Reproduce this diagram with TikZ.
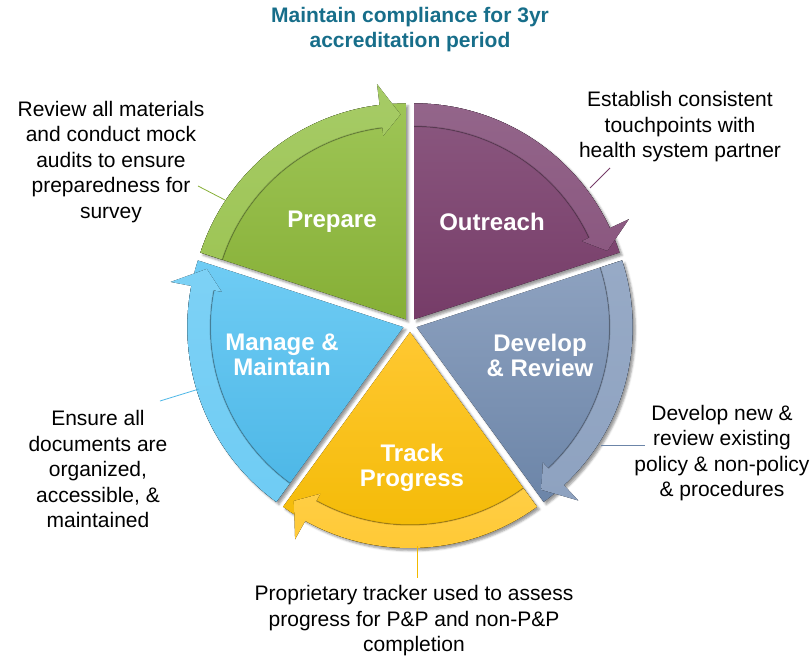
\documentclass[tikz,border=0pt]{standalone}
\usepackage{fontspec}
\setmainfont{Liberation Sans}
\usetikzlibrary{shadows.blur}

\definecolor{titleteal}{HTML}{176E8A}
\definecolor{prepTop}{HTML}{9EC556}
\definecolor{prepBot}{HTML}{86AF36}
\definecolor{prepBand}{HTML}{A6CB66}
\definecolor{outrTop}{HTML}{8B5880}
\definecolor{outrBot}{HTML}{763C68}
\definecolor{outrBand}{HTML}{93658A}
\definecolor{devrTop}{HTML}{8EA2C0}
\definecolor{devrBot}{HTML}{6C85A8}
\definecolor{devrBand}{HTML}{97AAC6}
\definecolor{trakTop}{HTML}{FFC832}
\definecolor{trakBot}{HTML}{F2B900}
\definecolor{trakBand}{HTML}{FFCE45}
\definecolor{manaTop}{HTML}{6FCCF4}
\definecolor{manaBot}{HTML}{4BB6E6}
\definecolor{manaBand}{HTML}{7DD1F5}

\tikzset{
  titletext/.style={align=center,text=titleteal,font=\bfseries\fontsize{21}{25}\selectfont},
  slicetext/.style={align=center,text=white,font=\bfseries\fontsize{24}{25}\selectfont},
  note/.style={align=center,font=\fontsize{21}{25.5}\selectfont},
  leader/.style={line width=0.8pt},
}

\begin{document}
\begin{tikzpicture}[x=1pt,y=1pt]
\useasboundingbox (-410,-333) rectangle (402,325);
% title
\node[titletext] (title) at (0,295) {Maintain compliance for 3yr\\accreditation period};
% wedges, each with its curved arrow
\foreach \lo/\hi/\col in {90/162/prep,18/90/outr,-54/18/devr,-126/-54/trak,162/234/mana}{
  \pgfmathsetmacro\md{(\lo+\hi)/2}
  \pgfmathsetmacro\hd{\lo+7}
  \pgfmathsetmacro\tp{\lo+1.5}
  \begin{scope}[shift={(\md:7)}]
    \fill[blur shadow,top color=\col Top,bottom color=\col Bot]
      (0,0) -- (\lo:216) arc[start angle=\lo,end angle=\hi,radius=216] -- cycle;
    \fill[top color=\col Band,bottom color=\col Top]
      (\hi:216) arc[start angle=\hi,end angle=\hd,radius=216]
      -- (\hd:237) -- (\tp:205) -- (\hd:185) -- (\hd:193)
      arc[start angle=\hd,end angle=\hi,radius=193] -- cycle;
    \draw[black,opacity=.18,line width=1.5]
      (\hi:193) arc[start angle=\hi,end angle=\hd,radius=193];
  \end{scope}
}
% wedge labels
\node[slicetext] (prepLbl) at (-78,103) {Prepare};
\node[slicetext] (outrLbl) at (82,103) {Outreach};
\node[slicetext] (devrLbl) at (130,-30) {Develop\\\& Review};
\node[slicetext] (trakLbl) at (2,-143) {Track\\Progress};
\node[slicetext] (manaLbl) at (-128,-30) {Manage \&\\Maintain};
% notes
\node[note] (prepNote) at (-299,163) {Review all materials\\and conduct mock\\audits to ensure\\preparedness for\\survey};
\node[note] (outrNote) at (270,198) {Establish consistent\\touchpoints with\\health system partner};
\node[note] (devrNote) at (312,-128) {Develop new \&\\review existing\\policy \& non-policy\\\& procedures};
\node[note] (trakNote) at (4,-296) {Proprietary tracker used to assess\\progress for P\&P and non-P\&P\\completion};
\node[note] (manaNote) at (-312,-144) {Ensure all\\documents are\\organized,\\accessible, \&\\maintained};
% leader lines
\coordinate (prepA) at (-212,139); \coordinate (prepB) at (-185,125);
\coordinate (outrA) at (200,157);  \coordinate (outrB) at (180,137);
\coordinate (devrA) at (235,-120); \coordinate (devrB) at (191,-120);
\coordinate (trakA) at (7,-253);   \coordinate (trakB) at (7,-221);
\coordinate (manaA) at (-250,-76); \coordinate (manaB) at (-211,-64);
\draw[leader,prepBot] (prepA) -- (prepB);
\draw[leader,outrBot] (outrA) -- (outrB);
\draw[leader,devrBot] (devrA) -- (devrB);
\draw[leader,trakBot] (trakA) -- (trakB);
\draw[leader,manaBot] (manaA) -- (manaB);
\end{tikzpicture}
\end{document}
